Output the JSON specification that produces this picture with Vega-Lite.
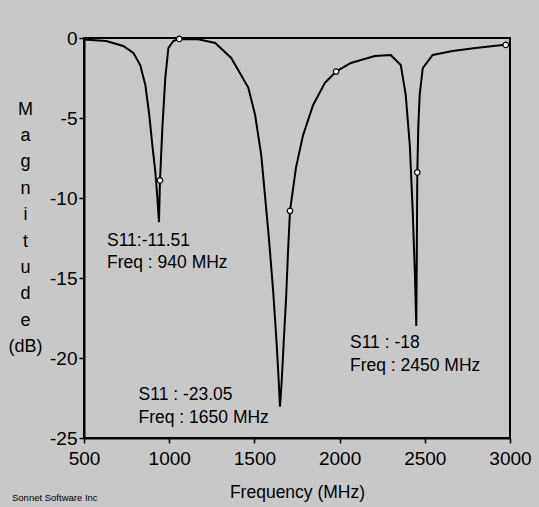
{
  "$schema": "https://vega.github.io/schema/vega-lite/v6.json",
  "width": 426,
  "height": 400,
  "autosize": {"type": "none"},
  "padding": {"left": 84, "top": 38, "right": 29, "bottom": 69},
  "background": "#c8c8c8",
  "config": {
    "font": "Liberation Sans",
    "view": {"stroke": "black", "strokeWidth": 2, "fill": "#c8c8c8"}
  },
  "title": {
    "text": "Sonnet Software Inc",
    "orient": "bottom",
    "anchor": "start",
    "frame": "group",
    "dx": -72,
    "offset": -8,
    "fontSize": 9.5,
    "fontWeight": "normal",
    "color": "black"
  },
  "datasets": {
    "curve": [
      {"freq": 500, "mag": -0.1}, {"freq": 630, "mag": -0.19}, {"freq": 730, "mag": -0.5},
      {"freq": 790, "mag": -0.94}, {"freq": 830, "mag": -1.69}, {"freq": 860, "mag": -2.94},
      {"freq": 883, "mag": -4.8}, {"freq": 901, "mag": -6.7}, {"freq": 918, "mag": -8.3},
      {"freq": 930, "mag": -9.9}, {"freq": 940, "mag": -11.51}, {"freq": 946, "mag": -8.9},
      {"freq": 960, "mag": -5.6}, {"freq": 977, "mag": -2.5}, {"freq": 995, "mag": -0.63},
      {"freq": 1024, "mag": -0.19}, {"freq": 1059, "mag": -0.06}, {"freq": 1170, "mag": -0.08},
      {"freq": 1270, "mag": -0.31}, {"freq": 1364, "mag": -1.25}, {"freq": 1464, "mag": -3.1},
      {"freq": 1504, "mag": -4.8}, {"freq": 1540, "mag": -7.3}, {"freq": 1560, "mag": -9.6},
      {"freq": 1585, "mag": -12.5}, {"freq": 1610, "mag": -15.8}, {"freq": 1630, "mag": -19},
      {"freq": 1642, "mag": -21.3}, {"freq": 1650, "mag": -23.05}, {"freq": 1660, "mag": -21.5},
      {"freq": 1673, "mag": -18.8}, {"freq": 1686, "mag": -16.25}, {"freq": 1698, "mag": -13.2},
      {"freq": 1709, "mag": -10.8}, {"freq": 1744, "mag": -8.1}, {"freq": 1785, "mag": -6.1},
      {"freq": 1844, "mag": -4.2}, {"freq": 1914, "mag": -2.8}, {"freq": 1979, "mag": -2.1},
      {"freq": 2066, "mag": -1.56}, {"freq": 2207, "mag": -1.12}, {"freq": 2300, "mag": -1.06},
      {"freq": 2359, "mag": -1.69}, {"freq": 2388, "mag": -3.56}, {"freq": 2412, "mag": -6.7},
      {"freq": 2429, "mag": -10.8}, {"freq": 2442, "mag": -14.8}, {"freq": 2450, "mag": -18},
      {"freq": 2453, "mag": -13.5}, {"freq": 2456, "mag": -8.4}, {"freq": 2462, "mag": -5.5},
      {"freq": 2470, "mag": -3.56}, {"freq": 2488, "mag": -1.88}, {"freq": 2546, "mag": -1.06},
      {"freq": 2663, "mag": -0.81}, {"freq": 2798, "mag": -0.63}, {"freq": 2956, "mag": -0.44},
      {"freq": 3000, "mag": -0.4}
    ],
    "markers": [
      {"freq": 946, "mag": -8.9}, {"freq": 1059, "mag": -0.06}, {"freq": 1709, "mag": -10.8},
      {"freq": 1979, "mag": -2.1}, {"freq": 2456, "mag": -8.4}, {"freq": 2975, "mag": -0.43}
    ],
    "labels": [
      {"freq": 635, "mag": -12.69, "label": "S11:-11.51"},
      {"freq": 635, "mag": -14.06, "label": "Freq : 940 MHz"},
      {"freq": 820, "mag": -22.31, "label": "S11 : -23.05"},
      {"freq": 820, "mag": -23.75, "label": "Freq : 1650 MHz"},
      {"freq": 2061, "mag": -19.06, "label": "S11 : -18"},
      {"freq": 2061, "mag": -20.5, "label": "Freq : 2450 MHz"}
    ]
  },
  "encoding": {
    "x": {
      "field": "freq",
      "type": "quantitative",
      "scale": {"domain": [500, 3000], "nice": false, "zero": false},
      "axis": {
        "values": [500, 1000, 1500, 2000, 2500, 3000],
        "labelExpr": "'' + datum.value",
        "title": "Frequency (MHz)",
        "grid": false,
        "labelFontSize": 19,
        "labelFlush": false,
        "labelOverlap": false,
        "titleFontSize": 17.5,
        "titleFontWeight": "normal",
        "tickSize": 5,
        "tickWidth": 1.5,
        "labelPadding": 6,
        "titlePadding": 15,
        "domainColor": "black",
        "domainWidth": 2,
        "tickColor": "black",
        "labelColor": "black",
        "titleColor": "black"
      }
    },
    "y": {
      "field": "mag",
      "type": "quantitative",
      "scale": {"domain": [-25, 0], "nice": false, "zero": false},
      "axis": {
        "values": [0, -5, -10, -15, -20, -25],
        "labelExpr": "'' + datum.value",
        "title": ["M", "a", "g", "n", "i", "t", "u", "d", "e", "", "(dB)"],
        "grid": false,
        "labelFontSize": 19,
        "labelOverlap": false,
        "labelFlush": false,
        "tickSize": 5,
        "tickWidth": 1.5,
        "labelPadding": 2,
        "domainColor": "black",
        "domainWidth": 2,
        "tickColor": "black",
        "labelColor": "black",
        "titleColor": "black",
        "titleFontSize": 18,
        "titleFontWeight": "normal",
        "titleAngle": 0,
        "titleAlign": "center",
        "titleBaseline": "top",
        "titleX": -59,
        "titleY": 62,
        "titleLineHeight": 26.4
      }
    }
  },
  "layer": [
    {
      "data": {"name": "curve"},
      "mark": {"type": "line", "color": "black", "strokeWidth": 2}
    },
    {
      "data": {"name": "markers"},
      "mark": {"type": "point", "shape": "circle", "filled": true, "fill": "white", "stroke": "black", "strokeWidth": 1.2, "size": 30, "opacity": 1}
    },
    {
      "data": {"name": "labels"},
      "mark": {"type": "text", "align": "left", "baseline": "middle", "fontSize": 17.5, "color": "black"},
      "encoding": {"text": {"field": "label", "type": "nominal"}}
    }
  ]
}
